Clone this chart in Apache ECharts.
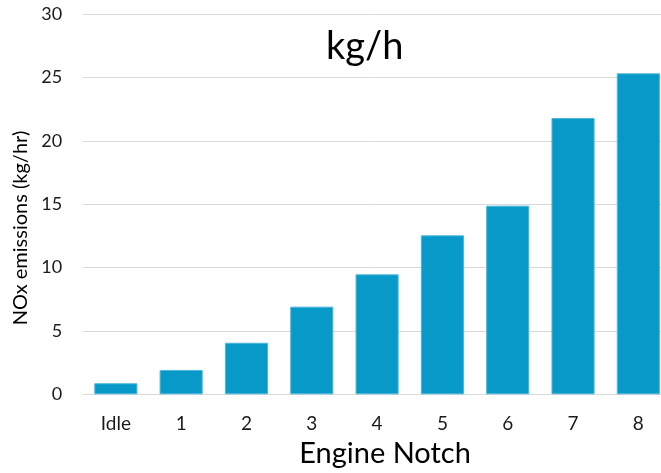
<!DOCTYPE html>
<html>
<head>
<meta charset="utf-8">
<script src="https://cdn.jsdelivr.net/npm/echarts@6/dist/echarts.min.js"></script>
<style>html,body{margin:0;padding:0;background:#fff}#c{width:661px;height:473px}</style>
</head>
<body>
<div id="c"></div>
<script>
var categories = ['Idle', '1', '2', '3', '4', '5', '6', '7', '8'];
var noxValues = [0.87, 1.92, 4.07, 6.92, 9.47, 12.55, 14.89, 21.81, 25.34];
var yTicks = [0, 5, 10, 15, 20, 25, 30];
var titleText = 'kg/h';
var xName = 'Engine Notch';
var yName = 'NOx emissions (kg/hr)';

var FONT = 'Lato, "Open Sans", sans-serif';
var chart = echarts.init(document.getElementById('c'));
chart.setOption({
  animation: false,
  backgroundColor: '#ffffff',
  title: {
    text: titleText,
    left: 321, top: 23,
    textStyle: { fontFamily: FONT, fontSize: 38, fontWeight: 'normal', color: '#000' }
  },
  grid: { left: 83.2, top: 14.3, right: -10, bottom: 78.7, containLabel: false, outerBoundsMode: 'none' },
  xAxis: {
    type: 'category',
    data: categories,
    axisLine: { lineStyle: { color: '#d9d9d9', width: 1 } },
    axisTick: { show: false },
    axisLabel: { fontFamily: FONT, fontSize: 19, color: '#1a1a1a', margin: 20 }
  },
  yAxis: {
    type: 'value',
    min: yTicks[0], max: yTicks[yTicks.length - 1], interval: 5,
    axisLine: { show: false },
    axisTick: { show: false },
    splitLine: { lineStyle: { color: '#d9d9d9', width: 1 } },
    axisLabel: { fontFamily: FONT, fontSize: 18, color: '#1a1a1a', margin: 21 }
  },
  graphic: [
    { type: 'text', x: 385, y: 454, style: { text: xName, fontFamily: FONT, fontSize: 29, fill: '#000', textAlign: 'center', textVerticalAlign: 'middle' } },
    { type: 'text', x: 21, y: 228, rotation: Math.PI / 2, style: { text: yName, fontFamily: FONT, fontSize: 20, fill: '#000', textAlign: 'center', textVerticalAlign: 'middle' } }
  ],
  series: [{
    type: 'bar',
    data: noxValues,
    barWidth: '66%',
    itemStyle: { color: '#079ac8', borderColor: '#4db6da', borderWidth: 1 }
  }]
});
</script>
</body>
</html>
